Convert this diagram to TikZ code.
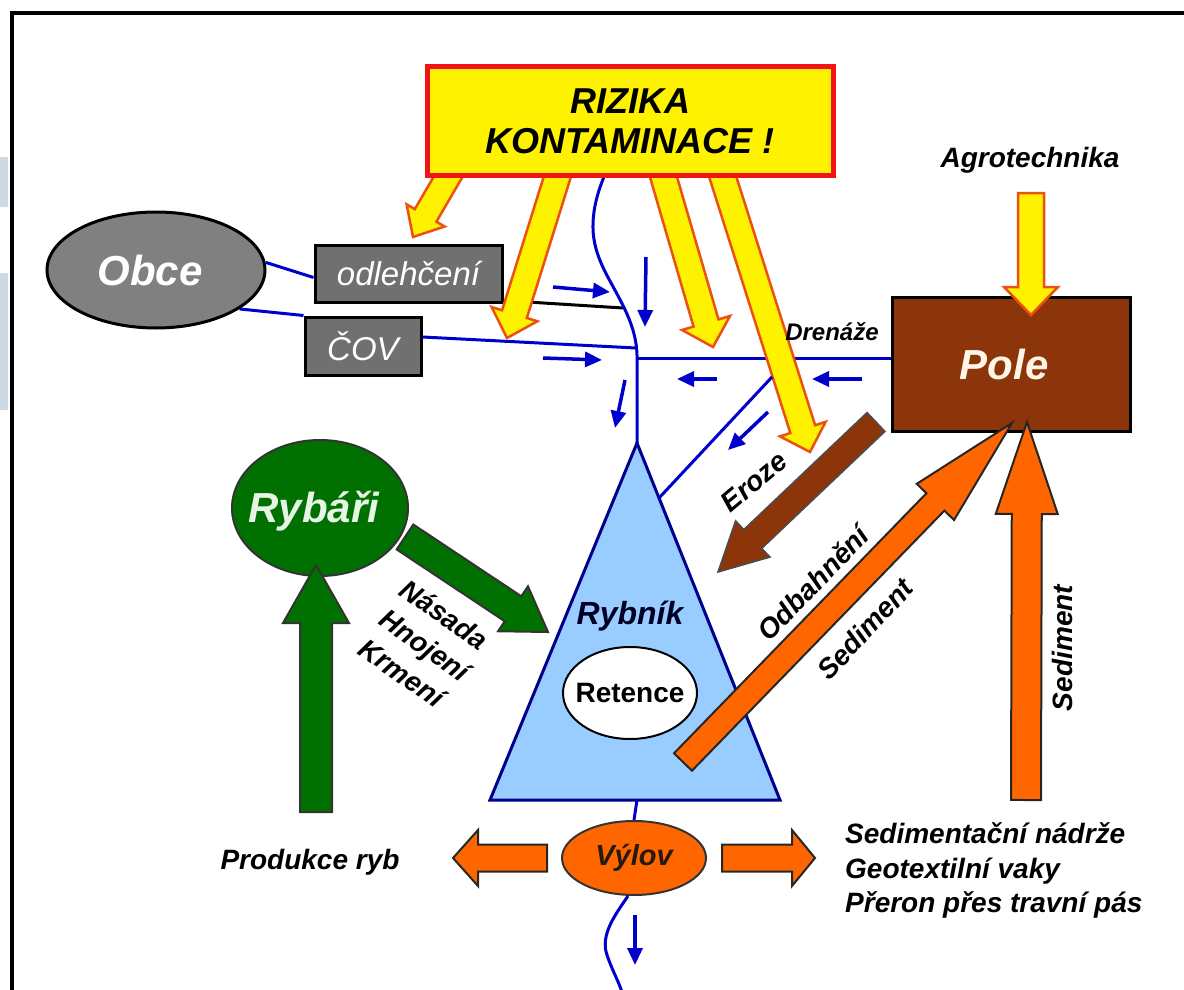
\documentclass[tikz,border=0pt]{standalone}
\usepackage{fontspec}
\setmainfont{Liberation Sans}
\usetikzlibrary{calc,arrows.meta,shapes.geometric,positioning}

\definecolor{riverblue}{RGB}{0,0,204}
\definecolor{pondblue}{RGB}{153,204,255}
\definecolor{pondedge}{RGB}{0,0,140}
\definecolor{fishgreen}{RGB}{0,112,0}
\definecolor{soilbrown}{RGB}{140,52,10}
\definecolor{sedorange}{RGB}{255,102,0}
\definecolor{riskred}{RGB}{240,20,20}
\definecolor{hazardedge}{RGB}{235,80,20}
\definecolor{villagegray}{RGB}{128,128,128}
\definecolor{boxgray}{RGB}{112,112,112}
\definecolor{sidepatch}{RGB}{205,218,228}

\newcommand\fsz[1]{\fontsize{#1}{#1}\selectfont}

% wide block arrow: [style]{from}{to}{half shaft}{half head}{head length}
\newcommand\fatarrow[6][]{%
  \coordinate (fa-a) at (#2);
  \coordinate (fa-b) at (#3);
  \coordinate (fa-m) at ($(fa-b)!#6pt!(fa-a)$);
  \filldraw[#1] ($(fa-a)!#4pt!90:(fa-b)$) -- ($(fa-m)!#4pt!-90:(fa-a)$)
    -- ($(fa-m)!#5pt!-90:(fa-a)$) -- (fa-b) -- ($(fa-m)!#5pt!90:(fa-a)$)
    -- ($(fa-m)!#4pt!90:(fa-a)$) -- ($(fa-a)!#4pt!-90:(fa-b)$) -- cycle;
}

\tikzset{
  lbl/.style={inner sep=0pt, font=\fsz{28}\bfseries\itshape},
  greybox/.style={
    rectangle, draw=black, line width=3pt, fill=boxgray,
    text=white, inner sep=0pt, font=\fsz{33}\itshape
  },
  riskbox/.style={
    rectangle, draw=riskred, line width=5pt, fill=yellow,
    minimum width=406pt, minimum height=108pt, align=center,
    font=\fontsize{36}{40}\selectfont\bfseries\itshape
  },
  riverline/.style={draw=riverblue, line width=3pt},
  flow/.style={riverblue, line width=3.5pt, -{Triangle[width=15pt,length=17pt]}},
  hazard/.style={fill=yellow, draw=hazardedge, line width=2.5pt},
  fisharrow/.style={fill=fishgreen, draw=black!80, line width=2pt},
  sedarrow/.style={fill=sedorange, draw=black!85, line width=2pt},
  soilarrow/.style={fill=soilbrown, draw=black!70, line width=1.5pt},
}

\begin{document}
\begin{tikzpicture}[x=1pt,y=-1pt,font=\fsz{28}]
  \useasboundingbox (0,0) rectangle (1184,990);
  \fill[sidepatch] (0,157) rectangle (8,207) (0,273) rectangle (8,410);
  \draw[line width=4pt] (1184,13) -- (12,13) -- (12,990);

  % villages
  \node[ellipse, draw=black, line width=3pt, fill=villagegray,
    minimum width=218pt, minimum height=116pt,
    label={[text=white, font=\fsz{42}\bfseries\itshape, xshift=-6pt]center:Obce}] (obce) at (156,270) {};
  \node[greybox, minimum width=187pt, minimum height=57pt] (odl) at (408.5,273.5) {odlehčení};
  \node[greybox, minimum width=116pt, minimum height=58pt] (cov) at (363,346) {ČOV};

  % water courses
  \coordinate (spill) at (623,308);
  \coordinate (outlet) at (636,348);
  \coordinate (drainjoin) at (637,358);
  \coordinate (apex) at (637,443);
  \coordinate (baseR) at (780,800);
  \coordinate (baseL) at (490,800);
  \coordinate (erostart) at (772,377);
  \path[riverline]
    (obce.4) edge ([yshift=-4pt]odl.west)
    (obce.-25) edge (cov.north west)
    ([yshift=9pt]cov.east) edge (outlet)
    (drainjoin) edge (drainjoin -| 892,0);
  \draw[line width=3pt] ([yshift=3pt]odl.south east) -- (spill);
  \draw[riverline] (606,172) .. controls (596,195) and (587,225) .. (598,255)
    .. controls (608,285) and (636,315) .. (637,355) -- (apex);

  % contamination risks
  \fatarrow[hazard]{455,165}{413,237}{12.5}{22}{25}
  \fatarrow[hazard]{561,165}{507,338}{13}{24}{25}
  \fatarrow[hazard]{660,165}{713,347}{13}{25}{25}
  \fatarrow[hazard]{719,165}{810,452}{13}{24}{24}
  \node[riskbox] (risk) at (630,121) {RIZIKA\\KONTAMINACE !};

  % pond
  \filldraw[fill=pondblue, draw=pondedge, line width=3pt, line join=miter]
    (apex) -- (baseR) -- (baseL) -- cycle;
  \draw[riverline] (erostart) -- ($(apex)!0.154!(baseR)$);
  \node[lbl, anchor=base, text=black!85!blue, font=\fsz{32}\bfseries\itshape] (rybnik) at (630,624) {Rybník};
  \node[ellipse, draw=black, line width=2pt, fill=white,
    minimum width=134pt, minimum height=92pt,
    label={[font=\fsz{28}\bfseries]center:Retence}] (retence) at (630,693) {};

  % harvest
  \node[ellipse, draw=black!80, line width=2pt, fill=sedorange,
    minimum width=144pt, minimum height=74pt,
    label={[text=black!80!brown, font=\fsz{29}\bfseries\itshape]center:Výlov}] (vylov) at (634,858) {};
  \draw[riverline] (apex |- baseL) -- (vylov.north);
  \draw[riverline] ([xshift=-6pt]vylov.south) .. controls (615,915) and (600,935) .. (607,955)
    .. controls (612,970) and (618,980) .. (622,992);
  \path[flow]
    (553,287) edge (610,292)
    (646,257) edge (645,327)
    (543,358) edge (602,360)
    (625,380) edge (615,428)
    (717,379) edge (677,379)
    (862,379) edge (812,379)
    (768,412) edge (728,450)
    (635,915) edge (635,965);

  % field
  \node[rectangle, draw=black, line width=3pt, fill=soilbrown,
    minimum width=238pt, minimum height=134pt,
    label={[text={rgb,255:red,255;green,245;blue,230}, font=\fsz{42}\bfseries\itshape, xshift=-7pt]center:Pole}] (pole) at (1011,364) {};
  \fatarrow[hazard]{1031,193}{1031,315}{13}{27}{28}
  \node[lbl, anchor=base] (agro) at (1030,167) {Agrotechnika};
  \node[lbl, anchor=base, font=\fsz{24}\bfseries\itshape] (drenaz) at (832,340) {Drenáže};

  \fatarrow[soilarrow]{876,422}{718,572}{13}{25}{48}
  \fatarrow[sedarrow]{683,762}{1012,423}{12.5}{26}{110}
  \fatarrow[sedarrow]{1026,800}{1027,422}{15}{31}{92}
  \fatarrow[sedarrow]{547,858}{453,858}{13.5}{28}{25}
  \fatarrow[sedarrow]{722,858}{815,858}{13.5}{28}{23}

  % fishermen
  \node[ellipse, draw=black!80, line width=2pt, fill=fishgreen,
    minimum width=176pt, minimum height=136pt,
    label={[text={rgb,255:red,230;green,245;blue,230}, font=\fsz{42}\bfseries\itshape, xshift=-6pt, yshift=-3pt]center:Rybáři}] (rybari) at (320,508) {};
  \fatarrow[fisharrow]{316,812}{316,565}{16}{33}{58}
  \fatarrow[fisharrow]{405,537}{548,632}{15}{27}{42}

  % labels
  \node[lbl, align=left, rotate=-35, font=\fontsize{28}{36}\selectfont\bfseries\itshape] (inputs) at (425,645)
    {Násada\\Hnojení\\Krmení};
  \node[lbl, rotate=40] (eroze) at (754,482) {Eroze};
  \node[lbl, rotate=46] (odbahneni) at (813,583) {Odbahnění};
  \node[lbl, rotate=47] (seddiag) at (865,629) {Sediment};
  \node[lbl, rotate=90] (sedvert) at (1062,648) {Sediment};
  \node[lbl, anchor=base] (produkce) at (310,869) {Produkce ryb};
  \node[lbl, anchor=base west] (sedA) at (845,843) {Sedimentační nádrže};
  \node[lbl, anchor=base west] (sedB) at (845,878) {Geotextilní vaky};
  \node[lbl, anchor=base west] (sedC) at (845,912) {Přeron přes travní pás};
\end{tikzpicture}
\end{document}
